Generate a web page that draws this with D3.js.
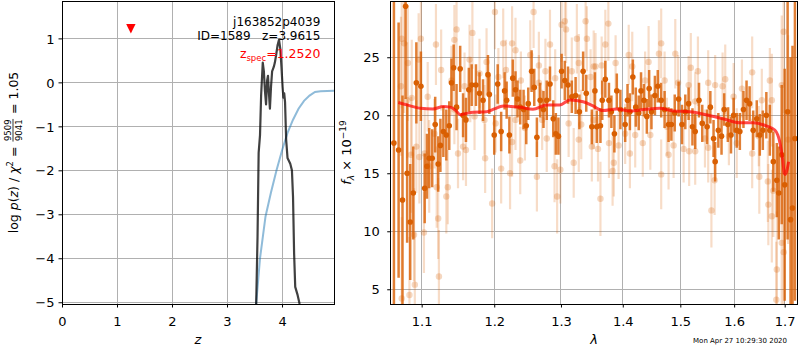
<!DOCTYPE html>
<html>
<head>
<meta charset="utf-8">
<script src="https://cdn.jsdelivr.net/npm/d3@7"></script>
<style>
  body { margin: 0; background: #fff; }
  text { font-family: "DejaVu Sans", sans-serif; }
</style>
</head>
<body>
<svg id="fig" width="800" height="350"></svg>
<script>
// ---- redshift probability panel ----
const zTicks = [0, 1, 2, 3, 4];
const logpTicks = [-5, -4, -3, -2, -1, 0, 1];
const pzZ   = [3.53, 3.555, 3.575, 3.60, 3.62, 3.65, 3.67, 3.69, 3.71, 3.73, 3.745, 3.76, 3.78, 3.80, 3.82, 3.85, 3.87, 3.89, 3.92, 3.945, 3.97, 3.99, 4.01, 4.025, 4.04, 4.055, 4.075, 4.10, 4.15, 4.18, 4.20, 4.22, 4.24, 4.28, 4.32];
const pzLog = [-5.04, -3.5, -1.6, -1.2, -0.3, 0.45, 0.25, -0.2, -0.5, 0.05, 0.15, -0.2, -0.6, -0.1, 0.25, 0.35, 0.45, 0.6, 0.85, 0.97, 0.75, 0.35, -0.1, -0.35, -0.25, -0.45, -1.3, -1.72, -1.85, -2.0, -2.6, -3.9, -4.65, -4.82, -5.04];
const priorZ   = [3.53, 3.6, 3.7, 3.8, 3.9, 4.0, 4.1, 4.2, 4.3, 4.4, 4.5, 4.6, 4.7, 4.95];
const priorLog = [-5.04, -4.0, -3.05, -2.5, -2.0, -1.55, -1.15, -0.85, -0.6, -0.42, -0.3, -0.22, -0.2, -0.19];
const zSpec = 1.2520;
const zSpecMarkLog = 1.22;
const objName = "j163852p4039";
const objId = 1589;
const zBest = 3.9615;

// ---- spectrum panel ----
const lamTicks = [1.1, 1.2, 1.3, 1.4, 1.5, 1.6, 1.7];
const fluxTicks = [5, 10, 15, 20, 25];

const darkLam = [1.064,1.070,1.075,1.079,1.081,1.085,1.089,1.093,1.099,1.104,
  1.107,1.110,1.114,1.118,1.122,1.125,1.129,1.133,1.137,1.140,
  1.143,1.147,1.152,1.156,1.160,1.164,1.168,1.174,1.179,1.184,
  1.191,1.193,1.200,1.205,1.210,1.215,1.218,1.222,1.227,1.231,
  1.234,1.238,1.243,1.247,1.250,1.255,1.259,1.263,1.268,1.273,
  1.278,1.283,1.288,1.292,1.296,1.301,1.306,1.311,1.317,1.323,
  1.329,1.335,1.340,1.349,1.354,1.357,1.363,1.366,1.371,1.377,
  1.381,1.386,1.390,1.396,1.404,1.408,1.412,1.417,1.422,1.427,
  1.431,1.436,1.441,1.445,1.449,1.455,1.460,1.466,1.472,1.479,
  1.484,1.490,1.497,1.503,1.509,1.515,1.522,1.527,1.534,1.540,
  1.549,1.555,1.561,1.564,1.570,1.576,1.581,1.588,1.594,1.599,
  1.605,1.611,1.618,1.624,1.630,1.637,1.644,1.650,1.656,1.663,
  1.670,1.677,1.684,1.688,1.694,1.700,1.706,1.712,1.716,1.721];
const darkFlux = [17.6,17.0,12.7,29.4,15.0,10.8,13.3,22.8,22.5,13.7,
  15.6,16.3,16.3,19.2,15.8,17.4,18.6,18.3,19.1,22.8,
  24.1,20.7,24.0,20.0,19.6,22.2,22.6,22.6,21.9,21.3,
  23.5,21.8,18.3,22.7,18.6,22.1,21.3,18.3,23.2,22.2,
  21.4,20.7,20.5,19.1,21.0,23.8,22.4,18.1,21.3,20.5,
  21.3,22.7,19.7,18.4,18.2,23.8,23.0,22.6,21.6,21.7,
  20.3,23.8,21.9,19.0,22.1,19.0,19.1,21.3,23.1,21.3,
  20.3,18.4,22.1,20.5,19.2,21.3,20.3,23.3,20.7,20.2,
  22.1,21.3,19.9,22.3,20.3,21.7,22.5,21.3,20.5,19.2,
  19.2,20.2,21.4,19.2,20.3,21.0,19.0,18.6,21.3,19.3,
  19.0,20.7,18.0,16.0,18.7,18.2,20.5,19.2,18.3,20.0,
  18.7,18.6,20.5,21.3,21.0,18.7,19.7,18.3,18.7,20.0,
  18.7,16.0,14.4,13.3,16.6,14.0,20.3,11.0,12.0,18.0];
const darkErr = [16,11,9,8,6,5,4,3.5,3,3,
  2.8,2.6,2.5,2.4,2.4,2.3,2.2,2.2,2.1,2.1,
  2.0,2.0,2.0,1.9,1.9,1.9,1.8,1.8,1.8,1.8,
  1.7,1.7,1.7,1.7,1.7,1.6,1.6,1.6,1.6,1.6,
  1.6,1.5,1.7,1.6,1.4,1.8,1.6,1.7,1.5,1.6,
  1.7,1.5,1.6,1.8,1.6,1.5,1.7,1.6,1.4,1.6,
  1.5,1.7,1.6,1.5,1.6,1.4,1.5,1.7,1.6,1.5,
  1.4,1.6,1.5,1.7,1.5,1.4,1.6,1.5,1.7,1.5,
  1.6,1.4,1.5,1.6,1.5,1.7,1.4,1.5,1.6,1.5,
  1.4,1.6,1.5,1.7,1.5,1.4,1.6,1.5,1.5,1.6,
  1.5,1.4,1.6,1.7,1.5,1.6,1.4,1.5,1.6,1.5,
  1.5,1.6,1.6,1.7,1.5,1.7,1.6,1.8,1.7,2.0,
  2.2,2.6,3.2,4.0,6,10,11,14,14,14];

const lightLam = [1.074,1.077,1.082,1.087,1.099,1.096,1.097,1.086,1.084,1.074,
  1.091,1.123,1.122,1.133,1.135,1.149,1.160,1.156,1.187,1.197,
  1.126,1.119,1.147,1.144,1.169,1.165,1.166,1.179,1.189,1.201,
  1.158,1.140,1.073,1.104,1.110,1.093,1.081,1.210,1.223,1.238,
  1.213,1.226,1.231,1.258,1.253,1.266,1.276,1.283,1.301,1.306,
  1.308,1.325,1.339,1.341,1.317,1.294,1.263,1.299,1.290,1.320,
  1.328,1.349,1.278,1.226,1.245,1.312,1.332,1.352,1.376,1.371,
  1.466,1.462,1.491,1.363,1.383,1.385,1.466,1.359,1.412,1.434,
  1.479,1.488,1.516,1.506,1.416,1.444,1.355,1.421,1.447,1.519,
  1.393,1.377,1.532,1.551,1.583,1.578,1.635,1.635,1.649,1.666,
  1.674,1.557,1.563,1.527,1.551,1.599,1.694,1.698,1.694,1.684,
  1.683,1.698,1.677,1.707,1.674,1.605,1.667,1.090,1.103,1.120,
  1.206,1.217,1.239,1.266,1.271,1.291,1.328,1.347,1.231,1.202,
  1.365,1.388,1.410,1.438,1.472,1.496,1.515,1.404,1.476,1.352,
  1.564,1.615,1.654,1.670,1.545,1.590,1.648,1.527,1.108,1.117,
  1.144,1.172,1.186];
const lightFlux = [26.6,26.2,24.5,21.5,26.6,24.8,16.4,16.6,4.5,4.2,
  5.4,6.1,11.1,13.0,13.8,16.7,17.0,17.3,16.3,12.4,
  23.9,26.1,27.4,26.5,27.1,24.8,22.2,23.6,24.6,28.9,
  22.5,23.0,22.5,16.7,15.6,17.3,21.3,15.4,15.0,16.1,
  26.2,26.2,25.6,28.9,25.2,24.3,23.8,26.1,27.8,28.1,
  27.4,26.6,28.1,26.6,23.8,13.0,14.7,15.3,15.6,15.9,
  17.9,17.3,18.0,17.7,18.9,19.3,19.2,24.2,27.9,26.1,
  26.2,25.3,25.3,12.8,15.2,15.9,14.9,17.1,16.7,17.6,
  16.6,17.4,16.9,17.1,24.2,24.6,24.2,18.3,18.3,24.1,
  17.4,17.6,23.8,22.8,23.1,22.5,23.7,16.7,14.7,14.3,
  11.3,11.8,14.4,16.9,17.2,21.6,22.6,27.2,9.0,6.7,
  4.1,8.2,13.5,17.9,21.3,17.6,12.3,9.7,9.9,13.8,
  23.3,23.9,23.0,22.8,19.6,23.2,24.5,23.3,19.6,19.3,
  24.3,24.5,25.2,23.0,23.0,22.8,22.6,18.4,19.0,19.6,
  22.6,22.3,21.3,23.0,18.0,18.2,18.2,21.2,21.6,18.4,
  20.5,19.9,19.6];
const lightErr = [6,6,5,5,4,4,4,5,5,7,
  4.5,4,3.5,3.2,3.2,3,3.1,2.9,3,3,
  3.5,3.5,3.2,3,3.1,3,2.8,3,2.9,3.2,
  2.9,3,6,4,4,4,5,3,3.1,2.9,
  3,3.2,2.8,3.1,3,2.9,2.8,3,3.2,3,
  2.9,3,3.1,2.8,2.9,3.2,3,2.9,3.1,3,
  2.8,3,2.9,3,2.8,2.9,3,3.1,3.2,3,
  3,2.9,3,3.2,3,2.9,3,2.8,3,2.9,
  3,2.8,3,2.9,3,3.1,2.9,2.8,3,3,
  2.9,3,3,2.8,3,2.9,3.1,3,3.2,3.5,
  4,3.2,3,2.9,3,2.9,6,7,6,5,
  5,7,4,9,4,3,3.5,4,3.5,3.5,
  2.5,2.6,2.5,2.4,2.6,2.5,2.5,2.4,2.6,2.5,
  2.5,2.4,2.6,2.5,2.5,2.4,2.5,2.6,2.5,2.5,
  2.6,2.5,2.7,2.8,2.5,2.5,2.6,2.5,3,3,
  3,2.9,3];

const modelLam = [1.0696,1.083,1.098,1.115,1.129,1.138,1.146,1.152,1.160,1.170,
  1.189,1.200,1.213,1.225,1.238,1.257,1.278,1.298,1.314,1.335,
  1.351,1.367,1.390,1.412,1.440,1.463,1.487,1.517,1.549,1.580,
  1.611,1.637,1.663,1.680,1.686,1.689,1.693,1.696,1.699,1.701,1.708];
const modelFlux = [21.1,20.85,20.6,20.55,20.75,20.7,20.4,20.05,20.15,20.26,
  20.31,20.55,20.8,20.75,20.69,20.52,20.89,20.89,21.32,21.17,
  20.8,20.4,20.54,20.37,20.52,20.6,20.37,20.31,20.03,19.68,
  19.36,19.36,19.08,18.73,18.3,17.87,17.0,16.15,15.0,14.9,16.0];

const stamp = "Mon Apr 27 10:29:30 2020";

// ---- layout ----
const svg = d3.select("#fig");
const L = { x0: 62, x1: 334, y0: 1, y1: 304 };
const R = { x0: 390.7, x1: 797.3, y0: 1, y1: 304 };
const tickFont = 13;
const gridColor = "#b0b0b0";
const specColor = "#d95f02";

const zScale = d3.scaleLinear().domain([0, 4.945]).range([L.x0, L.x1]);
const pScale = d3.scaleLinear().domain([-5.04, 1.85]).range([L.y1, L.y0]);
const lamScale = d3.scaleLog().domain([1.0599, 1.7259]).range([R.x0, R.x1]);
const fScale = d3.scaleLinear().domain([3.73, 29.85]).range([R.y1, R.y0]);

const defs = svg.append("defs");
[["clipL", L], ["clipR", R]].forEach(([id, b]) => {
  defs.append("clipPath").attr("id", id).append("rect")
    .attr("x", b.x0).attr("y", b.y0).attr("width", b.x1 - b.x0).attr("height", b.y1 - b.y0);
});

function drawGrid(b, xs, xt, ys, yt) {
  const g = svg.append("g").attr("stroke", gridColor).attr("stroke-width", 1).attr("shape-rendering", "crispEdges");
  g.selectAll(null).data(xt).join("line")
    .attr("x1", d => xs(d)).attr("x2", d => xs(d)).attr("y1", b.y0).attr("y2", b.y1);
  g.selectAll(null).data(yt).join("line")
    .attr("y1", d => ys(d)).attr("y2", d => ys(d)).attr("x1", b.x0).attr("x2", b.x1);
}

function drawAxes(b, xs, xt, xfmt, ys, yt, yfmt, yLabelGap) {
  const gx = svg.append("g").attr("transform", `translate(0,${b.y1})`)
    .call(d3.axisBottom(xs).tickValues(xt).tickFormat(xfmt).tickSize(3.5).tickPadding(3));
  gx.select(".domain").remove();
  gx.selectAll("text").attr("y", 21.5).attr("dy", 0).attr("font-size", tickFont)
    .attr("font-family", "DejaVu Sans").attr("fill", "#000");
  gx.selectAll("line").attr("stroke", "#000");
  const gy = svg.append("g").attr("transform", `translate(${b.x0},0)`)
    .call(d3.axisLeft(ys).tickValues(yt).tickFormat(yfmt).tickSize(3.5));
  gy.select(".domain").remove();
  gy.selectAll("text").attr("x", -yLabelGap).attr("dy", "0.36em").attr("font-size", tickFont)
    .attr("font-family", "DejaVu Sans").attr("fill", "#000");
  gy.selectAll("line").attr("stroke", "#000");
  svg.append("rect").attr("x", b.x0).attr("y", b.y0).attr("width", b.x1 - b.x0).attr("height", b.y1 - b.y0)
    .attr("fill", "none").attr("stroke", "#000").attr("stroke-width", 1).attr("shape-rendering", "crispEdges");
}

// rich text: parts {t, italic, size, shift(px up)}
function richText(parent, parts, size) {
  const t = parent.append("text").attr("font-size", size);
  let cur = 0;
  parts.forEach(p => {
    const shift = p.shift || 0;
    t.append("tspan").text(p.t)
      .attr("dy", -(shift - cur))
      .attr("font-size", p.size || size)
      .attr("font-style", p.italic ? "italic" : "normal");
    cur = shift;
  });
  return t;
}

// ---- left panel: p(z) ----
drawGrid(L, zScale, zTicks, pScale, logpTicks);

const pzG = svg.append("g").attr("clip-path", "url(#clipL)");
const pzLine = d3.line().x(d => zScale(d[0])).y(d => pScale(d[1]));
pzG.append("path").datum(d3.zip(priorZ, priorLog)).attr("d", pzLine)
  .attr("fill", "none").attr("stroke", "#1f77b4").attr("stroke-opacity", 0.5).attr("stroke-width", 2);
pzG.append("path").datum(d3.zip(pzZ, pzLog)).attr("d", pzLine)
  .attr("fill", "none").attr("stroke", "#000").attr("stroke-opacity", 0.75).attr("stroke-width", 2.2)
  .attr("stroke-linejoin", "round");

// spectroscopic redshift marker (downward triangle)
{
  const cx = zScale(zSpec), cy = pScale(zSpecMarkLog), s = 4.7;
  svg.append("path").attr("d", `M${cx - s},${cy - s}L${cx + s},${cy - s}L${cx},${cy + s}Z`).attr("fill", "red");
}

drawAxes(L, zScale, zTicks, d3.format("d"), pScale, logpTicks, d3.format("d"), 7.5);

// annotations
{
  const ax = L.x0 + 0.95 * (L.x1 - L.x0);
  svg.append("text").attr("x", ax).attr("y", 25.5).attr("text-anchor", "end").attr("font-size", 12).text(objName);
  svg.append("text").attr("x", ax).attr("y", 40).attr("text-anchor", "end").attr("font-size", 12)
    .attr("xml:space", "preserve").text(`ID=${objId}   z=${zBest.toFixed(4)}`);
  const t = richText(svg, [
    { t: "z", italic: false },
    { t: "spec", size: 8.5, shift: -2.5 },
    { t: "=" + zSpec.toFixed(4), shift: 0 }
  ], 12.5);
  t.attr("x", ax).attr("y", 58).attr("text-anchor", "end").attr("fill", "red");
}

// x label
richText(svg, [{ t: "z", italic: true }], 13).attr("x", (L.x0 + L.x1) / 2).attr("y", 344).attr("text-anchor", "middle");

// y label with fraction
{
  const fs = 12.5, fsf = 8.5;
  const g = svg.append("g").attr("transform", `translate(17.5,${(L.y0 + L.y1) / 2}) rotate(-90)`);
  const inner = g.append("g");
  const t1 = richText(inner, [
    { t: "log " }, { t: "p", italic: true }, { t: "(" }, { t: "z", italic: true }, { t: ")" },
    { t: " / " }, { t: "χ", italic: true }, { t: "2", size: 8.5, shift: 5 }, { t: " = ", shift: 0 }
  ], fs).attr("xml:space", "preserve");
  const w1 = t1.node().getComputedTextLength();
  const num = inner.append("text").attr("font-size", fsf).attr("text-anchor", "middle").text("9509");
  const den = inner.append("text").attr("font-size", fsf).attr("text-anchor", "middle").text("9041");
  const wf = Math.max(num.node().getComputedTextLength(), den.node().getComputedTextLength()) + 1;
  const fx = w1 + 1 + wf / 2;
  num.attr("x", fx).attr("y", -6.5);
  den.attr("x", fx).attr("y", 4);
  inner.append("line").attr("x1", w1 + 1).attr("x2", w1 + 1 + wf).attr("y1", -4.5).attr("y2", -4.5)
    .attr("stroke", "#000").attr("stroke-width", 0.8);
  const t2 = inner.append("text").attr("font-size", fs).attr("x", w1 + wf + 2).attr("xml:space", "preserve").text(" = 1.05");
  const W = w1 + wf + 2 + t2.node().getComputedTextLength();
  inner.attr("transform", `translate(${-W / 2},0)`);
}

// ---- right panel: spectrum ----
drawGrid(R, lamScale, lamTicks, fScale, fluxTicks);

const spG = svg.append("g").attr("clip-path", "url(#clipR)");
const light = d3.zip(lightLam, lightFlux, lightErr);
const dark = d3.zip(darkLam, darkFlux, darkErr);

spG.append("g").selectAll("line").data(light).join("line")
  .attr("x1", d => lamScale(d[0])).attr("x2", d => lamScale(d[0]))
  .attr("y1", d => fScale(d[1] - d[2])).attr("y2", d => fScale(d[1] + d[2]))
  .attr("stroke", specColor).attr("stroke-opacity", 0.22).attr("stroke-width", 2.2);
spG.append("g").selectAll("circle").data(light).join("circle")
  .attr("cx", d => lamScale(d[0])).attr("cy", d => fScale(d[1])).attr("r", 3.2)
  .attr("fill", specColor).attr("fill-opacity", 0.25);

spG.append("g").selectAll("line").data(dark).join("line")
  .attr("x1", d => lamScale(d[0])).attr("x2", d => lamScale(d[0]))
  .attr("y1", d => fScale(d[1] - d[2])).attr("y2", d => fScale(d[1] + d[2]))
  .attr("stroke", specColor).attr("stroke-opacity", 0.8).attr("stroke-width", 2.5);
spG.append("g").selectAll("circle").data(dark).join("circle")
  .attr("cx", d => lamScale(d[0])).attr("cy", d => fScale(d[1])).attr("r", 2.8)
  .attr("fill", specColor);

spG.append("path").datum(d3.zip(modelLam, modelFlux))
  .attr("d", d3.line().x(d => lamScale(d[0])).y(d => fScale(d[1])).curve(d3.curveMonotoneX))
  .attr("fill", "none").attr("stroke", "red").attr("stroke-opacity", 0.7).attr("stroke-width", 3)
  .attr("stroke-linejoin", "round");

drawAxes(R, lamScale, lamTicks, d3.format(".1f"), fScale, fluxTicks, d3.format("d"), 11);

// axis labels
richText(svg, [{ t: "λ", italic: true }], 13).attr("x", (R.x0 + R.x1) / 2).attr("y", 344).attr("text-anchor", "middle");
{
  const g = svg.append("g").attr("transform", `translate(351,${(R.y0 + R.y1) / 2}) rotate(-90)`);
  const t = richText(g, [
    { t: "f", italic: true }, { t: "λ", italic: true, size: 9, shift: -3 },
    { t: " × 10", shift: 0 }, { t: "−19", size: 9, shift: 5.5 }
  ], 13).attr("xml:space", "preserve");
  const w = t.node().getComputedTextLength();
  t.attr("x", -w / 2);
}

svg.append("text").attr("x", 787).attr("y", 343).attr("text-anchor", "end").attr("font-size", 7).text(stamp);
</script>
</body>
</html>
